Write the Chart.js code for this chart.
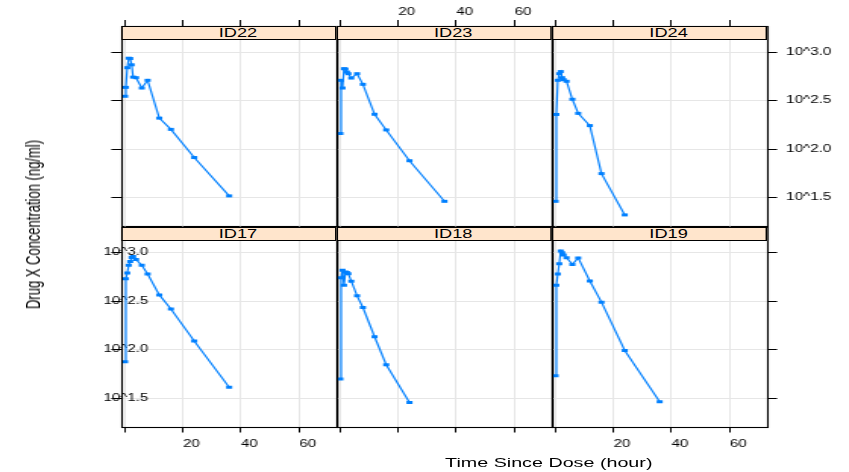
<!DOCTYPE html>
<html>
<head>
<meta charset="utf-8">
<script src="https://cdn.jsdelivr.net/npm/chart.js@4.4.1/dist/chart.umd.min.js"></script>
<style>
  html, body { margin: 0; padding: 0; background: #fff; }
  /* the reference is drawn narrow and stretched sideways */
  #page { position: relative; width: 560px; height: 472px; transform: scaleX(1.516); transform-origin: 0 0;
          font-family: "Liberation Sans", Arial, sans-serif; color: #000; }
  #page canvas { position: absolute; left: 0; top: 0; }
  .strip { position: absolute; box-sizing: border-box; height: 14px; background: #ffe5cc; border: 1px solid #000;
           font-size: 12px; line-height: 12px; text-align: center; padding-left: 12px; }
  .title { position: absolute; font-size: 13px; line-height: 15px; height: 15px; white-space: nowrap; text-align: center; }
</style>
</head>
<body>
<div id="page"></div>
<script>
// time since dose (hour)
const times = [0.25, 0.5, 1, 1.5, 2, 2.5, 3, 4, 6, 8, 12, 16, 24, 36];

// drug X concentration (ng/ml)
const id22 = [351, 434, 692, 867, 860, 741, 553, 546, 427, 513, 209, 160, 82, 33];
const id23 = [145, 513, 427, 676, 670, 624, 600, 541, 600, 466, 229, 158, 76, 29];
const id24 = [29, 228, 513, 600, 631, 546, 520, 501, 327, 234, 175, 56, 21, null];
const id17 = [75, 538, 617, 741, 813, 891, 912, 851, 741, 603, 367, 263, 123, 41];
const id18 = [50, 550, 661, 462, 631, 625, 607, 508, 359, 272, 136, 70, 28.5, null];
const id19 = [54, 462, 603, 769, 1040, 1000, 944, 887, 757, 883, 511, 309, 98, 29];

const xTicks = [0, 20, 40, 60];
const yTickExps = [1.5, 2.0, 2.5, 3.0];

const panels = [
  { name: 'ID22', values: id22, row: 0, col: 0 },
  { name: 'ID23', values: id23, row: 0, col: 1 },
  { name: 'ID24', values: id24, row: 0, col: 2 },
  { name: 'ID17', values: id17, row: 1, col: 0 },
  { name: 'ID18', values: id18, row: 1, col: 1 },
  { name: 'ID19', values: id19, row: 1, col: 2 }
];

const W = 560, H = 472;
const colLeft = [80, 222, 364], panelW = 142;
const rowTop = [26, 226.5], panelH = 200;
const blue = '#0080ff';
const tickFont = { family: '"Liberation Sans", Arial, sans-serif', size: 10 };

const page = document.getElementById('page');

const framePlugin = {
  id: 'frame',
  afterDraw(chart) {
    const a = chart.chartArea;
    const c = chart.ctx;
    c.save();
    c.strokeStyle = '#000';
    c.lineWidth = 1.1;
    c.strokeRect(Math.round(a.left) + 0.5, Math.round(a.top) + 0.5,
                 Math.round(a.right - a.left), Math.round(a.bottom - a.top));
    c.restore();
  }
};

function makePanel(p) {
  const canvas = document.createElement('canvas');
  canvas.width = W;
  canvas.height = H;
  page.appendChild(canvas);

  const left = colLeft[p.col];
  const top = rowTop[p.row];
  const bottom = top + panelH;
  const xLabels = (p.row === 0 && p.col === 1) || (p.row === 1 && p.col !== 1);
  const yLabels = (p.row === 0 && p.col === 2) || (p.row === 1 && p.col === 0);

  // axis boxes: top axis fills the space above the strip, bottom one a band below the panel,
  // the right one the margin; the left one is flat and its labels are mirrored over the frame
  const xAxisH = p.row === 0 ? top : 30;
  const yAxisW = p.col === 2 ? W - left - panelW : 0;
  const pad = {
    left: left,
    right: W - left - panelW - yAxisW,
    top: p.row === 0 ? 0 : top,
    bottom: p.row === 0 ? H - bottom : H - bottom - xAxisH
  };

  const points = [];
  times.forEach((t, i) => { if (p.values[i] !== null) points.push({ x: t, y: p.values[i] }); });

  new Chart(canvas, {
    type: 'line',
    data: {
      datasets: [{
        data: points,
        borderColor: blue,
        borderWidth: 1.2,
        pointStyle: 'line',
        pointRadius: 2,
        pointBorderWidth: 3,
        pointBorderColor: blue,
        pointBackgroundColor: blue
      }]
    },
    options: {
      responsive: false,
      animation: false,
      events: [],
      layout: { padding: pad },
      plugins: { legend: { display: false }, tooltip: { enabled: false } },
      scales: {
        x: {
          type: 'linear',
          position: p.row === 0 ? 'top' : 'bottom',
          min: -1.05,
          max: 72.9,
          bounds: 'data',
          afterFit: s => { s.height = xAxisH; },
          afterBuildTicks: s => { s.ticks = xTicks.map(v => ({ value: v })); },
          border: { display: false },
          grid: { color: '#e6e6e6', tickColor: '#000', tickLength: 6 },
          ticks: {
            display: xLabels,
            autoSkip: false,
            maxRotation: 0,
            labelOffset: 5.8,
            padding: p.row === 0 ? 2 : 5.5,
            color: '#000',
            font: tickFont,
            callback: v => v === 0 ? '' : String(v)
          }
        },
        y: {
          type: 'logarithmic',
          position: p.col === 2 ? 'right' : 'left',
          min: Math.pow(10, 1.208),
          max: Math.pow(10, 3.27),
          bounds: 'data',
          afterFit: s => { s.width = yAxisW; },
          afterBuildTicks: s => { s.ticks = yTickExps.map(e => ({ value: Math.pow(10, e) })); },
          border: { display: false },
          grid: { color: '#e6e6e6', tickColor: '#000', tickLength: 6.6, drawTicks: p.col !== 1 },
          ticks: {
            display: yLabels,
            mirror: p.col === 0,
            autoSkip: false,
            padding: p.col === 2 ? 6 : -11.8,
            color: '#000',
            font: tickFont,
            callback: v => '10^' + Math.log10(v).toFixed(1)
          }
        }
      }
    },
    plugins: [framePlugin]
  });

  const strip = document.createElement('div');
  strip.className = 'strip';
  strip.style.left = left + 'px';
  strip.style.top = top + 'px';
  strip.style.width = panelW + 'px';
  strip.textContent = p.name;
  page.appendChild(strip);
}

panels.forEach(makePanel);

const xTitle = document.createElement('div');
xTitle.className = 'title';
xTitle.style.left = '262px';
xTitle.style.top = '455px';
xTitle.style.width = '200px';
xTitle.textContent = 'Time Since Dose (hour)';
page.appendChild(xTitle);

const yTitle = document.createElement('div');
yTitle.className = 'title';
yTitle.style.left = '-78.2px';
yTitle.style.top = '216.5px';
yTitle.style.width = '200px';
yTitle.style.transform = 'rotate(-90deg)';
yTitle.textContent = 'Drug X Concentration (ng/ml)';
page.appendChild(yTitle);
</script>
</body>
</html>
